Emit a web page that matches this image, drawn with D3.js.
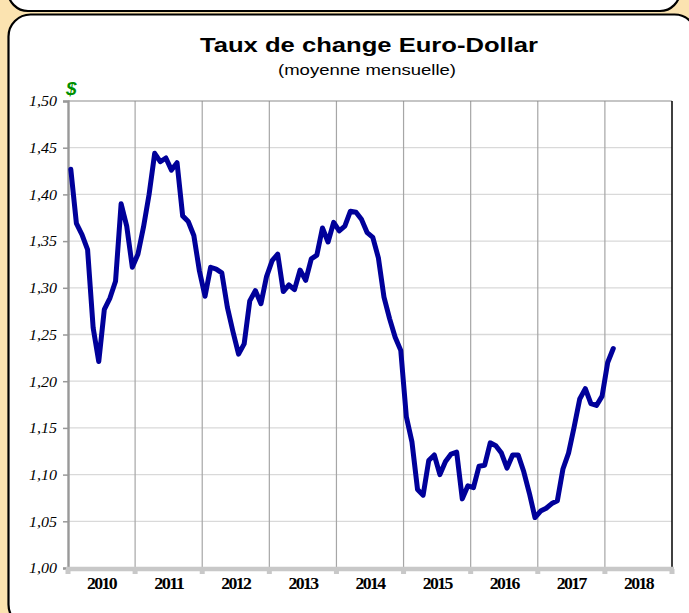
<!DOCTYPE html>
<html>
<head>
<meta charset="utf-8">
<script src="https://cdn.jsdelivr.net/npm/d3@7"></script>
<style>
  html, body { margin: 0; padding: 0; background: #fbe3b0; }
  svg { display: block; }
</style>
</head>
<body>
<div id="chart"></div>
<script>
// years on the x axis
const years = ["2010", "2011", "2012", "2013", "2014", "2015", "2016", "2017", "2018"];
// monthly average EUR/USD, Jan 2010 .. Feb 2018
const rate2010 = [1.427, 1.369, 1.357, 1.341, 1.257, 1.221, 1.277, 1.289, 1.307, 1.390, 1.366, 1.322];
const rate2011 = [1.336, 1.365, 1.400, 1.444, 1.435, 1.439, 1.426, 1.434, 1.377, 1.371, 1.356, 1.318];
const rate2012 = [1.291, 1.322, 1.320, 1.316, 1.279, 1.253, 1.229, 1.240, 1.286, 1.297, 1.283, 1.312];
const rate2013 = [1.329, 1.336, 1.296, 1.303, 1.298, 1.319, 1.308, 1.331, 1.335, 1.364, 1.349, 1.370];
const rate2014 = [1.361, 1.366, 1.382, 1.381, 1.373, 1.359, 1.354, 1.332, 1.290, 1.267, 1.247, 1.233];
const rate2015 = [1.162, 1.135, 1.084, 1.078, 1.115, 1.121, 1.100, 1.114, 1.122, 1.124, 1.074, 1.088];
const rate2016 = [1.086, 1.109, 1.110, 1.134, 1.131, 1.123, 1.107, 1.121, 1.121, 1.103, 1.080, 1.054];
const rate2017 = [1.061, 1.064, 1.069, 1.072, 1.106, 1.123, 1.151, 1.181, 1.192, 1.176, 1.174, 1.184];
const rate2018 = [1.220, 1.235];
const yTicks = [1.00, 1.05, 1.10, 1.15, 1.20, 1.25, 1.30, 1.35, 1.40, 1.45, 1.50];

const rates = [].concat(rate2010, rate2011, rate2012, rate2013, rate2014, rate2015, rate2016, rate2017, rate2018);

const W = 689, H = 613;
const P = { left: 68, right: 672, top: 101, bottom: 568 };

const svg = d3.select("#chart").append("svg").attr("width", W).attr("height", H);

// panels
svg.append("rect").attr("x", 8).attr("y", -40).attr("width", 672).attr("height", 51)
  .attr("rx", 20).attr("fill", "#fff").attr("stroke", "#000").attr("stroke-width", 2.2);
svg.append("rect").attr("x", 8.5).attr("y", 14.5).attr("width", 688).attr("height", 612)
  .attr("rx", 22).attr("fill", "#fff").attr("stroke", "#000").attr("stroke-width", 2.2);

// titles (the source is stretched wide, so fit the text to its measured width)
svg.append("text").attr("x", 369).attr("y", 52).attr("text-anchor", "middle")
  .attr("textLength", 338).attr("lengthAdjust", "spacingAndGlyphs")
  .style("font", "bold 20px 'Liberation Sans', Arial, sans-serif").text("Taux de change Euro-Dollar");
svg.append("text").attr("x", 367).attr("y", 75).attr("text-anchor", "middle")
  .attr("textLength", 178).attr("lengthAdjust", "spacingAndGlyphs")
  .style("font", "15px 'Liberation Sans', Arial, sans-serif").text("(moyenne mensuelle)");
svg.append("text").attr("x", 66).attr("y", 95)
  .style("font", "bold italic 19px 'Liberation Sans', Arial, sans-serif").attr("fill", "#009000").text("$");

const xBand = d3.scaleBand().domain(years).range([P.left, P.right]).padding(0);
const xm = d3.scaleLinear().domain([0, years.length * 12]).range([P.left, P.right]);
const y = d3.scaleLinear().domain([1.0, 1.5]).range([P.bottom, P.top]);

// horizontal grid
svg.append("g").selectAll("line").data(yTicks.slice(1, -1)).join("line")
  .attr("x1", P.left).attr("x2", P.right).attr("y1", (d) => y(d)).attr("y2", (d) => y(d))
  .attr("stroke", "#d9d9d9").attr("stroke-width", 1.3);

// vertical year grid
svg.append("g").selectAll("line").data(years.slice(1)).join("line")
  .attr("x1", (d) => xBand(d)).attr("x2", (d) => xBand(d)).attr("y1", P.top).attr("y2", P.bottom)
  .attr("stroke", "#a6a6a6").attr("stroke-width", 1.2);

// frame
svg.append("line").attr("x1", P.left).attr("x2", P.right).attr("y1", P.top).attr("y2", P.top)
  .attr("stroke", "#8c8c8c").attr("stroke-width", 1.2);
svg.append("line").attr("x1", P.right).attr("x2", P.right).attr("y1", P.top).attr("y2", P.bottom)
  .attr("stroke", "#000").attr("stroke-width", 1.5);

// y axis
const yAx = svg.append("g").attr("transform", `translate(${P.left},0)`)
  .call(d3.axisLeft(y).tickValues(yTicks).tickSize(5).tickPadding(6)
    .tickFormat((d) => d3.format(".2f")(d).replace(".", ",")));
yAx.select(".domain").attr("stroke", "#999").attr("stroke-width", 2.4);
yAx.selectAll(".tick line").attr("stroke", "#999").attr("stroke-width", 1.5);
yAx.selectAll("text").attr("fill", "#000").attr("textLength", 28).attr("lengthAdjust", "spacingAndGlyphs")
  .style("font", "italic 15px 'Liberation Serif', 'Times New Roman', serif");

// x axis
const xAx = svg.append("g").attr("transform", `translate(0,${P.bottom})`)
  .call(d3.axisBottom(xBand).tickSize(0).tickPadding(9));
xAx.select(".domain").remove();
xAx.append("line").attr("x1", P.left - 2).attr("x2", P.right + 2).attr("y1", 1).attr("y2", 1)
  .attr("stroke", "#c8c8c8").attr("stroke-width", 4.5);
xAx.selectAll(".tickmark").data(years.concat(["end"])).join("rect").attr("class", "tickmark")
  .attr("x", (d, i) => xm(i * 12) - 2.5).attr("y", 1).attr("width", 5).attr("height", 5)
  .attr("fill", "#c8c8c8");
xAx.selectAll(".tick text").attr("fill", "#000").attr("textLength", 29).attr("lengthAdjust", "spacingAndGlyphs")
  .style("font", "bold 16.5px 'Liberation Serif', 'Times New Roman', serif").style("letter-spacing", "-1.5px");

// series
const line = d3.line().x((d, i) => xm(i + 0.5)).y((d) => y(d)).curve(d3.curveLinear);
svg.append("path").datum(rates).attr("d", line).attr("fill", "none")
  .attr("stroke", "#00009a").attr("stroke-width", 5).attr("stroke-linejoin", "round").attr("stroke-linecap", "round");
</script>
</body>
</html>
